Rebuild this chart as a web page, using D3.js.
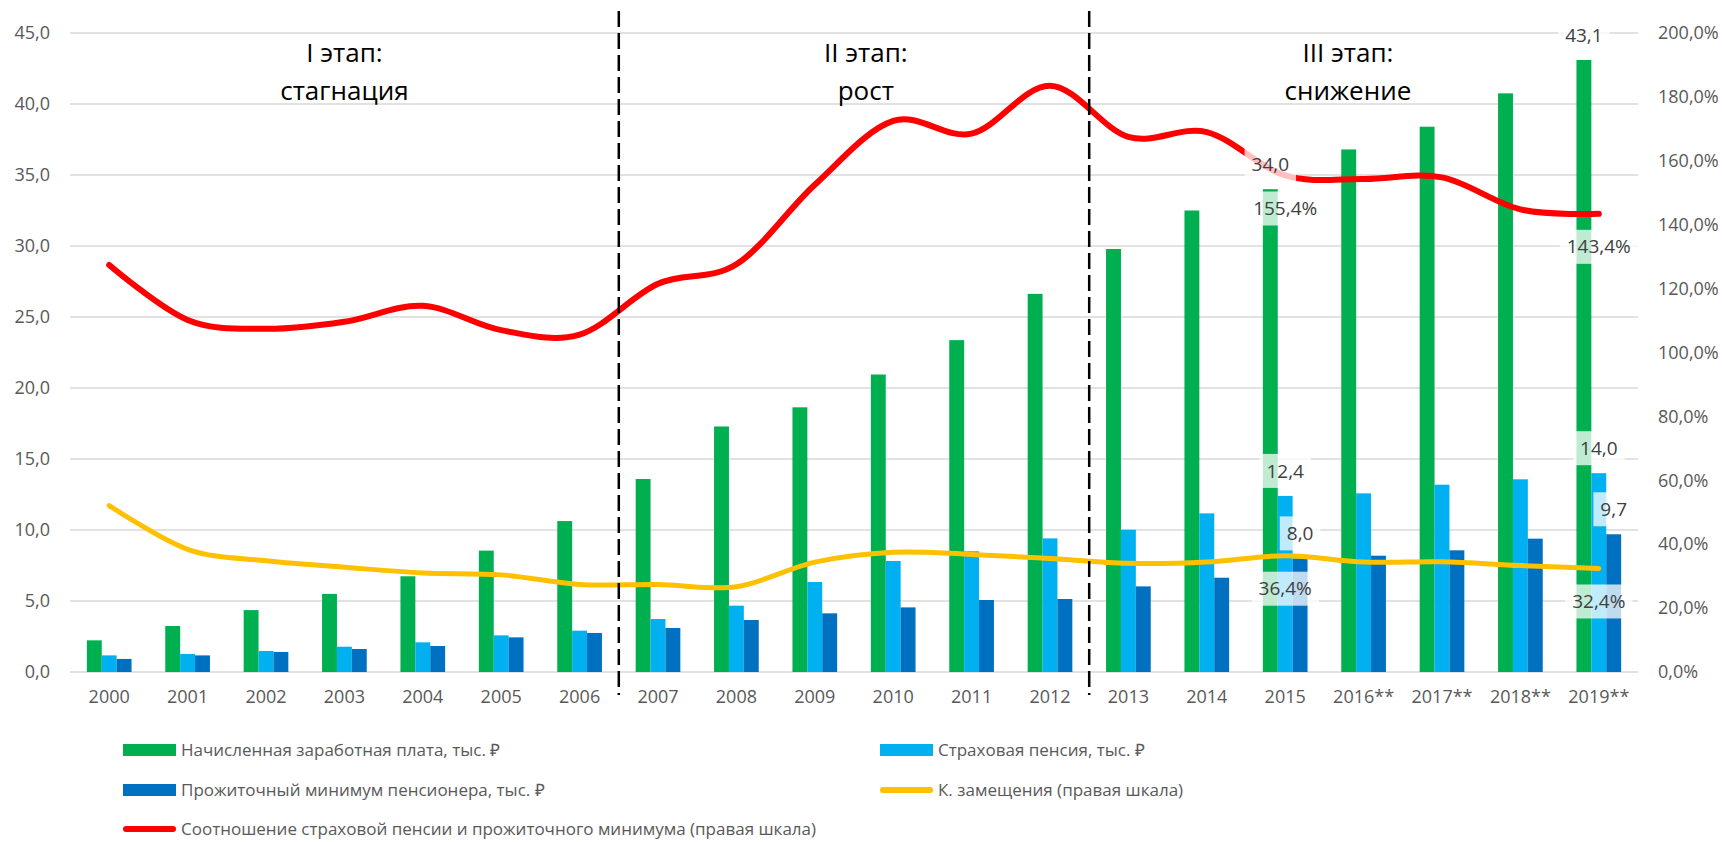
<!DOCTYPE html>
<html>
<head>
<meta charset="utf-8">
<script src="https://cdn.jsdelivr.net/npm/d3@7"></script>
<style>
  body { margin: 0; background: #fff; }
  svg { font-family: "Open Sans", sans-serif; }
</style>
</head>
<body>
<svg id="chart" width="1725" height="842"></svg>
<script>
// --- data ---
const years = ["2000", "2001", "2002", "2003", "2004", "2005", "2006", "2007", "2008", "2009",
  "2010", "2011", "2012", "2013", "2014", "2015", "2016**", "2017**", "2018**", "2019**"];
const wage = [2.23, 3.24, 4.36, 5.50, 6.74, 8.55, 10.63, 13.59, 17.29, 18.64,
  20.95, 23.37, 26.63, 29.79, 32.50, 34.0, 36.8, 38.4, 40.75, 43.1];
const pension = [1.17, 1.27, 1.48, 1.78, 2.09, 2.58, 2.91, 3.73, 4.67, 6.34,
  7.82, 8.50, 9.41, 10.02, 11.17, 12.4, 12.58, 13.19, 13.57, 14.0];
const minimum = [0.92, 1.17, 1.41, 1.62, 1.83, 2.44, 2.75, 3.10, 3.66, 4.13,
  4.55, 5.07, 5.14, 6.03, 6.64, 8.0, 8.19, 8.57, 9.39, 9.7];
const replacement = [52.1, 38.4, 34.8, 32.8, 31.0, 30.4, 27.4, 27.4, 26.7, 34.4,
  37.5, 36.8, 35.5, 34.0, 34.4, 36.4, 34.4, 34.5, 33.3, 32.4];
const ratio = [127.4, 110.2, 107.4, 109.6, 114.6, 107.0, 105.6, 121.5, 127.6, 152.5,
  172.5, 168.5, 183.5, 167.5, 169.0, 155.4, 154.3, 154.8, 144.8, 143.4];
const leftTicks = [0, 5, 10, 15, 20, 25, 30, 35, 40, 45];
const rightTicks = [0, 20, 40, 60, 80, 100, 120, 140, 160, 180, 200];
const labelledYears = ["2015", "2019**"];
const stageBreaks = ["2006", "2012"];
const stageTitles = ["I этап:", "II этап:", "III этап:"];
const stageNames = ["стагнация", "рост", "снижение"];

const barSeries = [
  { name: "Начисленная заработная плата, тыс. ₽", values: wage, color: "#00B050" },
  { name: "Страховая пенсия, тыс. ₽", values: pension, color: "#00B0F0" },
  { name: "Прожиточный минимум пенсионера, тыс. ₽", values: minimum, color: "#0070C0" }
];
const lineSeries = [
  { name: "К. замещения (правая шкала)", values: replacement, color: "#FFC000", width: 5 },
  { name: "Соотношение страховой пенсии и прожиточного минимума (правая шкала)", values: ratio, color: "#FF0000", width: 6 }
];

const svg = d3.select("#chart");
const margin = { left: 70, right: 87, top: 33, bottom: 170 };
const W = 1725, H = 842;
const plotW = W - margin.left - margin.right;
const y0 = 672, yTop = 33;

const x = d3.scaleBand().domain(years).range([margin.left, margin.left + plotW])
  .paddingInner(0.43).paddingOuter(0.215);
const xs = d3.scaleBand().domain(d3.range(barSeries.length)).range([0, x.bandwidth()]);
const yL = d3.scaleLinear().domain([0, 45]).range([y0, yTop]);
const yR = d3.scaleLinear().domain([0, 200]).range([y0, yTop]);
const cx = d => x(d) + x.bandwidth() / 2;
const comma = v => d3.format(".1f")(v).replace(".", ",");

// gridlines
svg.append("g").selectAll("line").data(leftTicks).join("line")
  .attr("x1", margin.left).attr("x2", margin.left + plotW)
  .attr("y1", d => yL(d)).attr("y2", d => yL(d))
  .attr("stroke", "#D9D9D9").attr("stroke-width", 1.5);

// left axis
const axL = svg.append("g").attr("transform", `translate(${margin.left - 12},0)`)
  .call(d3.axisLeft(yL).tickValues(leftTicks).tickSize(0).tickPadding(8).tickFormat(comma));
axL.select(".domain").remove();
axL.selectAll("text").attr("font-size", 18).attr("fill", "#595959").attr("font-family", "Open Sans");

// right axis
const axR = svg.append("g").attr("transform", `translate(${margin.left + plotW + 12},0)`)
  .call(d3.axisRight(yR).tickValues(rightTicks).tickSize(0).tickPadding(8).tickFormat(d => comma(d) + "%"));
axR.select(".domain").remove();
axR.selectAll("text").attr("font-size", 18).attr("fill", "#595959").attr("font-family", "Open Sans");

// bottom axis labels
const axB = svg.append("g").attr("transform", `translate(0,${y0 + 8})`)
  .call(d3.axisBottom(x).tickSize(0).tickPadding(10));
axB.select(".domain").remove();
axB.selectAll("text").attr("font-size", 18).attr("fill", "#595959").attr("font-family", "Open Sans");

// bars
barSeries.forEach((s, i) => {
  svg.append("g").selectAll("rect").data(years).join("rect")
    .attr("x", d => x(d) + xs(i))
    .attr("width", xs.bandwidth())
    .attr("y", (d, j) => yL(s.values[j]))
    .attr("height", (d, j) => y0 - yL(s.values[j]))
    .attr("fill", s.color);
});

// lines
lineSeries.forEach(s => {
  const line = d3.line()
    .x((d, j) => cx(years[j]))
    .y(d => yR(d))
    .curve(d3.curveCardinal.tension(0));
  svg.append("path").datum(s.values)
    .attr("fill", "none").attr("stroke", s.color).attr("stroke-width", s.width)
    .attr("stroke-linecap", "round").attr("stroke-linejoin", "round")
    .attr("d", line);
});

// stage dividers
stageBreaks.forEach(b => {
  const i = years.indexOf(b);
  const xb = (cx(years[i]) + cx(years[i + 1])) / 2;
  svg.append("line").attr("x1", xb).attr("x2", xb).attr("y1", 11).attr("y2", 695)
    .attr("stroke", "#000").attr("stroke-width", 2.5).attr("stroke-dasharray", "16,6");
});

// stage captions
const stageAt = [3.5, 10.15, 16.3];
stageTitles.forEach((t, i) => {
  const sx = margin.left + x.step() * stageAt[i];
  const g = svg.append("g").attr("text-anchor", "middle").attr("font-size", 26).attr("fill", "#000");
  g.append("text").attr("x", sx).attr("y", 62).text(t);
  g.append("text").attr("x", sx).attr("y", 100).text(stageNames[i]);
});

// data labels
const labels = svg.append("g").attr("font-size", 19).attr("fill", "#404040").attr("text-anchor", "middle");
function addLabel(lx, ly, txt) {
  const g = labels.append("g");
  const rect = g.append("rect");
  const t = g.append("text").attr("x", lx).attr("y", ly).attr("dy", "0.35em").text(txt);
  const w = t.node().getComputedTextLength() + 14;
  rect.attr("x", lx - w / 2).attr("y", ly - 17).attr("width", w).attr("height", 34)
    .attr("fill", "#fff").attr("fill-opacity", 0.75);
}
labelledYears.forEach(yr => {
  const j = years.indexOf(yr);
  barSeries.forEach((s, i) => {
    addLabel(x(yr) + xs(i) + xs.bandwidth() / 2, yL(s.values[j]) - 25, comma(s.values[j]));
  });
  lineSeries.forEach(s => {
    addLabel(cx(yr), yR(s.values[j]) + 33, comma(s.values[j]) + "%");
  });
});

// legend
const legendItems = [
  { s: barSeries[0], kind: "bar", lx: 123, ly: 750 },
  { s: barSeries[1], kind: "bar", lx: 880, ly: 750 },
  { s: barSeries[2], kind: "bar", lx: 123, ly: 790 },
  { s: lineSeries[0], kind: "line", lx: 880, ly: 790 },
  { s: lineSeries[1], kind: "line", lx: 123, ly: 829 }
];
const lg = svg.append("g").attr("font-size", 17).attr("fill", "#595959");
legendItems.forEach(it => {
  if (it.kind === "bar") {
    lg.append("rect").attr("x", it.lx).attr("y", it.ly - 6).attr("width", 53).attr("height", 12).attr("fill", it.s.color);
  } else {
    lg.append("line").attr("x1", it.lx + 3).attr("x2", it.lx + 50).attr("y1", it.ly).attr("y2", it.ly)
      .attr("stroke", it.s.color).attr("stroke-width", 6).attr("stroke-linecap", "round");
  }
  lg.append("text").attr("x", it.lx + 58).attr("y", it.ly).attr("dy", "0.35em").text(it.s.name);
});
</script>
</body>
</html>
